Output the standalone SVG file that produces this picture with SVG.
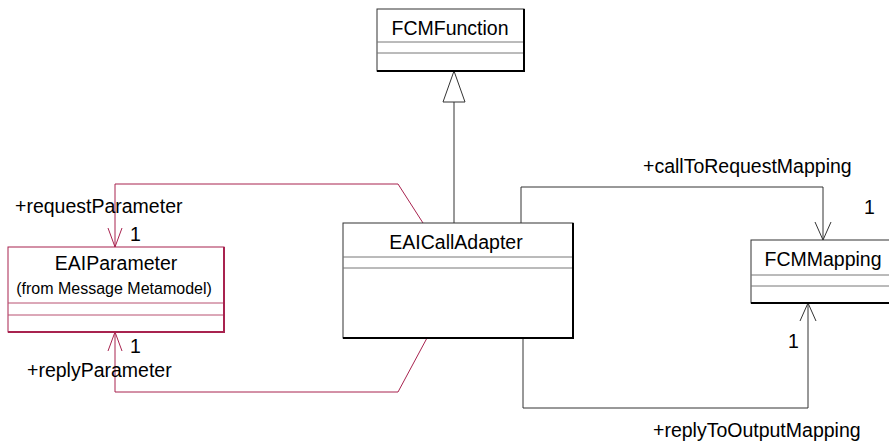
<svg xmlns="http://www.w3.org/2000/svg" width="889" height="445" viewBox="0 0 889 445">
<style>
text{font-family:"Liberation Sans",Arial,sans-serif;fill:#000}
.big{font-size:19.5px}
.small{font-size:16px}
.box{fill:#fff;stroke:#333;stroke-width:1}
.edge{stroke:#000;stroke-width:2;fill:none}
.div{stroke:#777;stroke-width:1}
.rbox{fill:#fff;stroke:#a8234f;stroke-width:1}
.redge{stroke:#a8234f;stroke-width:2;fill:none}
.rdiv{stroke:#b85070;stroke-width:1}
.blk{stroke:#333;stroke-width:1;fill:none}
.red{stroke:#a8234f;stroke-width:1;fill:none}
</style>
<g id="connectors">
<line class="blk" x1="454" y1="102" x2="454" y2="223"/>
<polygon points="454,71 443,102 465,102" fill="#fff" stroke="#333" stroke-width="1"/>
<polyline class="blk" points="521,223 521,187 823,187 823,240"/>
<polyline class="blk" points="815,222 823,240 831,222"/>
<polyline class="blk" points="523,338 523,408 808,408 808,303"/>
<polyline class="blk" points="800,321 808,303 816,321"/>
<polyline class="red" points="423,223 398,184 115,184 115,247"/>
<polyline class="red" points="108,228 115,247 122,228"/>
<polyline class="red" points="427,338 398,392 115,392 115,332"/>
<polyline class="red" points="108,351 115,332 122,351"/>
<text class="big" x="643" y="173">+callToRequestMapping</text>
<text class="big" x="864" y="214">1</text>
<text class="big" x="788" y="348">1</text>
<text class="big" x="653" y="437">+replyToOutputMapping</text>
<text class="big" x="15" y="213">+requestParameter</text>
<text class="big" x="130" y="241">1</text>
<text class="big" x="130" y="353">1</text>
<text class="big" x="27" y="377">+replyParameter</text>
</g>
<g id="FCMFunction">
<rect class="box" x="377" y="9" width="147" height="62"/>
<line class="div" x1="377" y1="42" x2="524" y2="42"/>
<line class="div" x1="377" y1="53" x2="524" y2="53"/>
<polyline class="edge" points="377,71 524,71 524,9"/>
<text class="big" x="450" y="35" text-anchor="middle">FCMFunction</text>
</g>
<g id="EAICallAdapter">
<rect class="box" x="343" y="223" width="230" height="115"/>
<line class="div" x1="343" y1="257" x2="573" y2="257"/>
<line class="div" x1="343" y1="268" x2="573" y2="268"/>
<polyline class="edge" points="343,338 573,338 573,223"/>
<text class="big" x="456" y="249" text-anchor="middle">EAICallAdapter</text>
</g>
<g id="FCMMapping">
<rect class="box" x="751" y="240" width="150" height="63"/>
<line class="div" x1="751" y1="275" x2="901" y2="275"/>
<line class="div" x1="751" y1="286" x2="901" y2="286"/>
<line class="edge" x1="751" y1="303" x2="901" y2="303"/>
<text class="big" x="823" y="266" text-anchor="middle">FCMMapping</text>
</g>
<g id="EAIParameter">
<rect class="rbox" x="8" y="247" width="216" height="85"/>
<line class="rdiv" x1="8" y1="303" x2="224" y2="303"/>
<line class="rdiv" x1="8" y1="315" x2="224" y2="315"/>
<polyline class="redge" points="8,332 224,332 224,247"/>
<text class="big" x="116" y="270" text-anchor="middle">EAIParameter</text>
<text class="small" x="114" y="294" text-anchor="middle">(from Message Metamodel)</text>
</g>
</svg>
